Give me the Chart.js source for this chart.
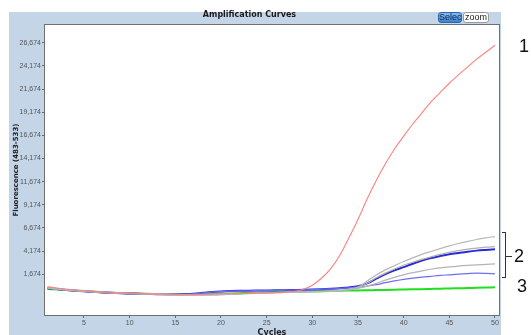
<!DOCTYPE html>
<html>
<head>
<meta charset="utf-8">
<script src="https://cdn.jsdelivr.net/npm/chart.js@4/dist/chart.umd.min.js"></script>
<style>
  html, body { margin: 0; padding: 0; background: #ffffff; }
  #wrap { position: relative; width: 531px; height: 335px; overflow: hidden; }
  #c { position: absolute; left: 0; top: 0; }
  .btn { position: absolute; top: 12px; height: 11px; font: 9px/9px "Liberation Sans", Arial, sans-serif; text-align: center; border-radius: 3px; box-sizing: border-box; overflow: hidden; }
  #b1 { left: 438px; width: 24px; background: linear-gradient(#86baf0, #3a82d2); border: 1px solid #2d68a8; color: #14284a; }
  #b2 { left: 463px; width: 26px; background: #ffffff; border: 1px solid #9a9a9a; color: #222; }
  .ann { position: absolute; font: 18px/18px "Liberation Sans", Arial, sans-serif; color: #111; }
  #br { position: absolute; left: 502px; top: 232px; width: 3px; height: 44px; border: 1px solid #333; border-left: none; }
  #dash { position: absolute; left: 506px; top: 256px; width: 6px; height: 1px; background: #333; }
</style>
</head>
<body>
<div id="wrap">
  <canvas id="c" width="531" height="335"></canvas>
  <div class="btn" id="b1">Selec</div>
  <div class="btn" id="b2">zoom</div>
  <div class="ann" style="left:519px; top:37px;">1</div>
  <div id="br"></div>
  <div id="dash"></div>
  <div class="ann" style="left:514px; top:247px;">2</div>
  <div class="ann" style="left:517px; top:277px;">3</div>
</div>
<script>
const cycles = [1,2,3,4,5,6,7,8,9,10,11,12,13,14,15,16,17,18,19,20,21,22,23,24,25,26,27,28,29,30,31,32,33,34,35,36,37,38,39,40,41,42,43,44,45,46,47,48,49,50];
const yTicks = [1674,4174,6674,9174,11674,14174,16674,19174,21674,24174,26674];
const xTicks = [5,10,15,20,25,30,35,40,45,50];

const sample1 = [330,200,80,-20,-100,-180,-250,-300,-340,-380,-410,-430,-450,-480,-500,-540,-520,-480,-450,-430,-420,-400,-380,-350,-320,-290,-250,-180,50,500,1250,2250,3700,5600,7600,9800,11800,13600,15200,16600,17900,19100,20300,21300,22300,23200,24050,24900,25650,26400];
const grayA = [200,90,0,-80,-150,-210,-270,-320,-360,-390,-420,-440,-460,-480,-500,-520,-540,-550,-540,-510,-470,-430,-400,-370,-340,-310,-280,-250,-220,-200,-180,-130,-60,60,300,950,1600,2150,2600,3050,3450,3820,4140,4450,4750,5000,5230,5430,5600,5750];
const grayB = [180,80,-10,-90,-160,-220,-280,-330,-370,-400,-430,-450,-470,-490,-510,-530,-550,-560,-550,-520,-480,-440,-410,-380,-350,-320,-290,-260,-230,-210,-190,-150,-90,20,230,700,1300,1800,2250,2650,2980,3280,3560,3820,4040,4230,4390,4510,4600,4660];
const grayC = [220,100,10,-70,-140,-200,-260,-310,-350,-380,-410,-430,-450,-470,-490,-510,-530,-540,-530,-500,-460,-420,-390,-360,-330,-300,-270,-240,-220,-210,-200,-170,-120,-20,150,400,700,1050,1350,1620,1850,2050,2220,2360,2470,2560,2630,2690,2740,2790];
const blueA = [180,80,-10,-90,-160,-220,-280,-330,-370,-400,-430,-450,-470,-480,-490,-470,-420,-320,-230,-170,-130,-100,-90,-80,-70,-60,-40,-20,0,30,70,120,180,260,400,700,1200,1700,2100,2450,2820,3150,3430,3640,3830,3980,4120,4230,4310,4380];
const blueB = [160,70,-20,-100,-170,-230,-290,-340,-380,-410,-440,-460,-470,-490,-500,-480,-430,-340,-250,-190,-150,-120,-100,-90,-80,-70,-50,-30,-10,20,60,100,140,200,280,400,550,770,960,1130,1260,1370,1460,1550,1620,1690,1750,1800,1770,1720];
const greenA = [100,40,-20,-80,-140,-200,-260,-310,-350,-380,-410,-430,-450,-470,-480,-490,-490,-480,-460,-430,-400,-370,-340,-310,-280,-250,-220,-190,-170,-150,-130,-115,-100,-85,-70,-50,-30,-10,10,30,50,70,95,120,140,165,190,215,240,265];

function pts(vals) { return cycles.map((c, i) => ({ x: c, y: vals[i] })); }

const panelPlugin = {
  id: 'panel',
  beforeDraw(chart) {
    const ctx = chart.ctx, a = chart.chartArea;
    ctx.save();
    ctx.fillStyle = '#c3d5e7';
    ctx.fillRect(9, 12, 492, 323);
    ctx.fillStyle = '#ffffff';
    ctx.fillRect(a.left, a.top, a.right - a.left, a.bottom - a.top);
    ctx.restore();
  },
  afterDraw(chart) {
    const ctx = chart.ctx, a = chart.chartArea;
    ctx.save();
    ctx.strokeStyle = '#707070';
    ctx.lineWidth = 1;
    ctx.strokeRect(a.left - 0.5, a.top - 0.5, a.right - a.left + 1, a.bottom - a.top + 1);
    ctx.restore();
  }
};

const ds = (label, vals, color, w) => ({
  label, data: pts(vals), borderColor: color, borderWidth: w,
  pointRadius: 0, fill: false, cubicInterpolationMode: 'monotone'
});

new Chart(document.getElementById('c'), {
  type: 'line',
  data: {
    datasets: [
      ds('Sample 1', sample1, '#ff8080', 1.1),
      ds('Gray A', grayA, '#b8b8b8', 1.2),
      ds('Gray B', grayB, '#b0b0b0', 1.2),
      ds('Gray C', grayC, '#b4b4b4', 1.2),
      ds('Blue B', blueB, '#6e6ef0', 1.2),
      ds('Blue A', blueA, '#2a2ad8', 2),
      ds('Green', greenA, '#1ee01e', 2)
    ]
  },
  options: {
    responsive: false,
    animation: false,
    layout: { padding: { left: 0, top: 0, right: 32, bottom: 0 } },
    plugins: {
      legend: { display: false },
      tooltip: { enabled: false },
      title: {
        display: true,
        text: 'Amplification Curves',
        color: '#1a1a1a',
        font: { family: 'DejaVu Sans', size: 8, weight: 'bold', lineHeight: 1 },
        padding: { top: 11, bottom: 6 }
      }
    },
    scales: {
      x: {
        type: 'linear',
        min: 0.73,
        max: 50.44,
        afterBuildTicks(s) { s.ticks = xTicks.map(v => ({ value: v })); },
        afterFit(s) { s.height = 20; },
        ticks: { color: '#555', font: { family: 'Liberation Sans', size: 7 }, padding: 1, maxRotation: 0 },
        grid: { display: true, drawOnChartArea: false, drawTicks: true, tickLength: 3, color: '#666' },
        border: { display: false },
        title: { display: true, text: 'Cycles', color: '#222', font: { family: 'DejaVu Sans', size: 8, weight: 'bold', lineHeight: 0.6 }, padding: { top: 0, bottom: 0 } }
      },
      y: {
        type: 'linear',
        min: -2720,
        max: 28590,
        afterBuildTicks(s) { s.ticks = yTicks.map(v => ({ value: v })); },
        afterFit(s) { s.width = 45; },
        ticks: { color: '#555', font: { family: 'Liberation Sans', size: 7 }, padding: 1, callback: v => v.toLocaleString('en-US') },
        grid: { display: true, drawOnChartArea: false, drawTicks: true, tickLength: 3, color: '#666' },
        border: { display: false },
        title: { display: true, text: 'Fluorescence (483-533)', color: '#222', font: { family: 'DejaVu Sans', size: 7, weight: 'bold', lineHeight: 1 }, padding: { top: 13, bottom: 0 } }
      }
    }
  },
  plugins: [panelPlugin]
});
</script>
</body>
</html>
